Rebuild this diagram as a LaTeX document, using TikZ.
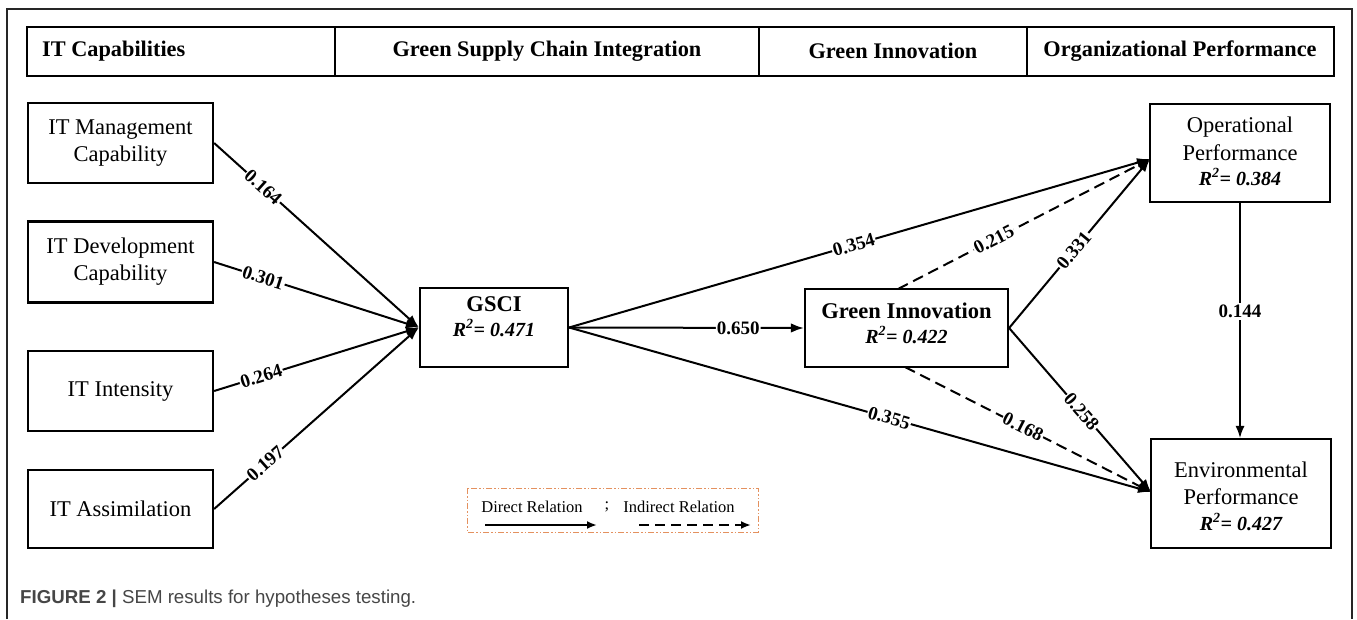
\documentclass[tikz,border=0pt]{standalone}
\usepackage{fontspec}
\setmainfont{Liberation Serif}
\newfontfamily\capfont{Liberation Sans}
\usetikzlibrary{arrows.meta}
\newcommand\hdrfont{\fontsize{22.3}{26}\selectfont\bfseries}
\newcommand\boxfont{\fontsize{22.5}{27}\selectfont}
\newcommand\ttlfont{\fontsize{22.5}{26}\selectfont\bfseries}
\newcommand\rsqfont{\fontsize{20}{24}\selectfont\bfseries\itshape}
\newcommand\labfont{\fontsize{19}{22}\selectfont\bfseries}
\newcommand\legfont{\fontsize{16.5}{20}\selectfont}
\definecolor{legorange}{RGB}{228,145,95}
\definecolor{capgray}{RGB}{70,70,70}
\begin{document}
\begin{tikzpicture}[x=1pt,y=-1pt,
  box/.style={draw, line width=2.2pt, inner sep=0pt, align=center},
  hdr/.style={font=\hdrfont, inner sep=0pt},
  txt/.style={inner sep=0pt, align=center},
  rel/.style={line width=2pt, -{Latex[length=13pt,width=9.5pt]}},
  indrel/.style={rel, dash pattern=on 11pt off 6pt},
  lab/.style={font=\labfont, fill=white, inner sep=1pt, sloped}
]
\useasboundingbox (0,0) rectangle (1357,619);
% outer frame (open at the bottom)
\draw[line width=1.4pt, black!85] (7,619) -- (7,9) -- (1352,9) -- (1352,619);
% header row
\draw[line width=1.8pt] (27,27) rectangle (1334,76);
\draw[line width=1.8pt] (335,27) -- (335,76) (759,27) -- (759,76) (1027,27) -- (1027,76);
\node[hdr, anchor=west] (h1) at (42,51) {IT Capabilities};
\node[hdr] (h2) at (547,51) {Green Supply Chain Integration};
\node[hdr] (h3) at (893,51) {Green Innovation};
\node[hdr] (h4) at (1180,51) {Organizational Performance};
% IT boxes
\node[box, font=\boxfont, minimum width=185pt, minimum height=80pt] (itm) at (120.5,143) {IT Management\\Capability};
\node[box, font=\boxfont, minimum width=185pt, minimum height=81pt] (itd) at (120.5,262) {IT Development\\Capability};
\node[box, font=\boxfont, minimum width=185pt, minimum height=80pt] (iti) at (120.5,391) {IT Intensity};
\node[box, font=\boxfont, minimum width=185pt, minimum height=78pt] (ita) at (120.5,509) {IT Assimilation};
% GSCI
\node[box, minimum width=148pt, minimum height=79pt] (gsci) at (494,327.5) {};
\node[txt, font=\ttlfont] (gscit) at (494,304) {GSCI};
\node[txt, font=\rsqfont] (gscir) at (494,328) {R\textsuperscript{2}= 0.471};
% Green Innovation
\node[box, minimum width=203pt, minimum height=78pt] (gi) at (906.5,328) {};
\node[txt, font=\ttlfont] (git) at (906.5,311) {Green Innovation};
\node[txt, font=\rsqfont] (gir) at (906.5,335) {R\textsuperscript{2}= 0.422};
% Operational Performance
\node[box, minimum width=180pt, minimum height=98pt] (op) at (1240,153) {};
\node[txt, font=\boxfont] (opt1) at (1240,127) {Operational};
\node[txt, font=\boxfont] (opt2) at (1240,153) {Performance};
\node[txt, font=\rsqfont] (opr) at (1240,177) {R\textsuperscript{2}= 0.384};
% Environmental Performance
\node[box, minimum width=180pt, minimum height=109pt] (ep) at (1241,493.5) {};
\node[txt, font=\boxfont] (ept1) at (1241,470) {Environmental};
\node[txt, font=\boxfont] (ept2) at (1241,497) {Performance};
\node[txt, font=\rsqfont] (epr) at (1241,522) {R\textsuperscript{2}= 0.427};
% entry points
\coordinate (opin) at (1150,159);
\coordinate (epin) at (1151,492);
\coordinate (gitop) at (898,289);
\coordinate (gibot) at (905,367);
% IT capabilities -> GSCI
\draw[rel] (itm.east) -- node[lab, pos=0.24] {0.164} (gsci.west);
\draw[rel] (itd.east) -- node[lab, pos=0.24] {0.301} (gsci.west);
\draw[rel] (iti.east) -- node[lab, pos=0.23] {0.264} (gsci.west);
\draw[rel] (ita.east) -- node[lab, pos=0.25] {0.197} (gsci.west);
% GSCI outgoing
\draw[rel] (gsci.east) -- node[lab, pos=0.72] {0.650} (gi.west);
\draw[rel] (gsci.east) -- node[lab, pos=0.49] {0.354} (opin);
\draw[rel] (gsci.east) -- node[lab, pos=0.55] {0.355} (epin);
% Green Innovation outgoing
\draw[indrel] (gitop) -- node[lab, pos=0.38] {0.215} (opin);
\draw[rel] (gi.east) -- node[lab, pos=0.46] {0.331} (opin);
\draw[indrel] (gibot) -- node[lab, pos=0.48] {0.168} (epin);
\draw[rel] (gi.east) -- node[lab, pos=0.51] {0.258} (epin);
% OP -> EP
\draw[line width=1.3pt, -{Latex[length=12pt,width=9pt]}] (op.south) -- node[font=\labfont, fill=white, inner sep=2pt, pos=0.46] {0.144} (op.south |- ep.north);
% legend
\draw[legorange, line width=1pt, dash pattern=on 6pt off 2pt on 1.5pt off 2pt on 1.5pt off 2pt] (467,488) rectangle (758,532);
\node[txt, font=\legfont] (l1) at (532,507) {Direct Relation};
\node[txt, font=\legfont] (l2) at (607,507) {;};
\node[txt, font=\legfont] (l3) at (679,507) {Indirect Relation};
\coordinate (la1) at (485,525);
\coordinate (la2) at (597,525);
\coordinate (lb1) at (639,525);
\coordinate (lb2) at (751,525);
\draw[line width=2pt, -{Latex[length=10pt,width=8pt]}] (la1) -- (la2);
\draw[line width=2pt, dash pattern=on 10pt off 6pt, -{Latex[length=10pt,width=8pt]}] (lb1) -- (lb2);
% caption
\node[anchor=west, inner sep=0pt, font={\capfont\fontsize{18.7}{22}\selectfont}, text=capgray] (cap) at (20,599) {\textbf{FIGURE 2 |} SEM results for hypotheses testing.};
\end{tikzpicture}
\end{document}
